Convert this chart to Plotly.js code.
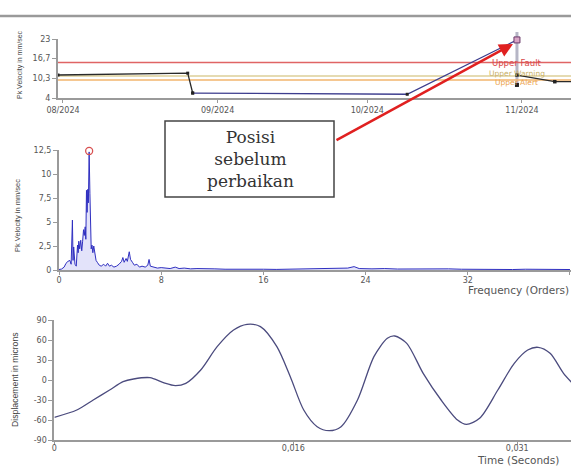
<!DOCTYPE html>
<html>
<head>
<meta charset="utf-8">
<script src="https://cdn.plot.ly/plotly-3.0.1.min.js"></script>
<style>html,body{margin:0;padding:0;background:#fff;}#chart{width:571px;height:471px;}</style>
</head>
<body>
<div id="chart"></div>
<script>
// ---------- DATA ----------
// Trend (top panel)
const trendDatesA = ['2024-07-31', '2024-08-26', '2024-08-27'];
const trendValsA  = [11.4, 12.0, 5.6];
const trendDatesB = ['2024-08-27', '2024-10-09', '2024-10-31'];
const trendValsB  = [5.6, 5.2, 22.7];
const trendDatesC = ['2024-10-31', '2024-11-07 14:00', '2024-11-11'];
const trendValsC  = [11.4, 9.25, 9.25];
const extraDates  = ['2024-10-31'];
const extraVals   = [8.2];
const selectedDate = ['2024-10-31'];
const selectedVal  = [22.7];
const thresholdNames  = ['Upper Fault', 'Upper Warning', 'Upper Alert'];
const thresholdValues = [15.4, 11.1, 9.8];
const trendTickDates  = ['2024-08-01', '2024-09-01', '2024-10-01', '2024-11-01'];
const trendTickLabels = ['08/2024', '09/2024', '10/2024', '11/2024'];
const trendYTicks     = [4, 10.3, 16.7, 23];
const trendYLabels    = ['4', '10,3', '16,7', '23'];

// Spectrum (middle panel)
const specOrders = [0, 0.2, 0.4, 0.55, 0.7, 0.85, 0.95, 1.0, 1.05, 1.1, 1.15, 1.25, 1.35, 1.45, 1.5, 1.55, 1.62, 1.7, 1.78, 1.85,
  1.92, 1.98, 2.05, 2.1, 2.15, 2.2, 2.25, 2.3, 2.36, 2.42, 2.48, 2.52, 2.58, 2.65, 2.72, 2.8, 2.9, 3.0, 3.15, 3.3,
  3.5, 3.65, 3.8, 3.95, 4.1, 4.3, 4.5, 4.7, 4.9, 5.0, 5.1, 5.25, 5.35, 5.5, 5.6, 5.75, 5.9, 6.1, 6.3, 6.5,
  6.75, 6.95, 7.05, 7.15, 7.4, 7.7, 8.0, 8.3, 8.7, 9.1, 9.4, 9.8, 10.3, 10.8, 11.5, 12.2, 13, 14, 15, 16,
  17, 18, 19, 20, 21, 22, 22.6, 23.1, 23.5, 24.5, 25.5, 26.5, 27.5, 28.5, 29.5, 30.5, 31.5, 32.5, 33.5, 34.5,
  35.5, 36.5, 37.5, 38.5, 39.5, 40];
const specVals = [0.05, 0.1, 0.3, 0.7, 0.9, 1.0, 0.6, 3.4, 5.2, 1.0, 2.4, 0.6, 0.4, 2.6, 1.8, 3.0, 2.2, 3.1, 2.0, 3.0,
  4.2, 3.6, 4.5, 3.2, 8.3, 6.0, 8.4, 7.0, 12.3, 8.0, 5.0, 2.2, 2.6, 1.8, 2.5, 1.6, 1.0, 0.8, 0.5, 0.4,
  0.6, 0.4, 0.7, 0.4, 0.5, 0.3, 0.4, 0.6, 0.9, 1.3, 0.8, 1.2, 0.9, 1.9, 1.1, 0.8, 0.5, 0.6, 0.3, 0.4,
  0.3, 0.5, 1.1, 0.4, 0.3, 0.2, 0.25, 0.2, 0.15, 0.3, 0.15, 0.2, 0.12, 0.15, 0.1, 0.12, 0.08, 0.1, 0.07, 0.08,
  0.06, 0.08, 0.06, 0.1, 0.12, 0.15, 0.2, 0.35, 0.15, 0.12, 0.15, 0.1, 0.12, 0.15, 0.1, 0.12, 0.08, 0.06, 0.05, 0.06,
  0.05, 0.08, 0.05, 0.06, 0.05, 0.05];
const peakOrder = [2.36];
const peakVal   = [12.4];
const specXTicks  = [0, 8, 16, 24, 32, 40];
const specXLabels = ['0', '8', '16', '24', '32', '40'];
const specYTicks  = [0, 2.5, 5, 7.5, 10, 12.5];
const specYLabels = ['0', '2,5', '5', '7,5', '10', '12,5'];

// Waveform (bottom panel)
const waveTime = [0, 0.0015, 0.0026, 0.0037, 0.0046, 0.0053, 0.0064, 0.0073, 0.0081, 0.0088, 0.0098, 0.0109, 0.0120,
  0.0129, 0.0138, 0.0149, 0.0158, 0.0167, 0.0176, 0.0184, 0.0192, 0.0203, 0.0214, 0.0223, 0.0228, 0.0236, 0.0247,
  0.0259, 0.0270, 0.0276, 0.0285, 0.0297, 0.0308, 0.0317, 0.0324, 0.0332, 0.0341, 0.0347];
const waveDisp = [-56, -45, -30, -15, -2.5, 1.5, 3.5, -4, -8.5, -5, 15, 50, 75,
  83.5, 80, 50, 5, -45, -70, -76, -70, -30, 35, 62.5, 66, 55, 10,
  -30, -60, -66.5, -57, -15, 25, 45, 49, 40, 10, -5];
const waveXTicks  = [0, 0.016, 0.031];
const waveXLabels = ['0', '0,016', '0,031'];
const waveYTicks  = [-90, -60, -30, 0, 30, 60, 90];
const waveYLabels = ['-90', '-60', '-30', '0', '30', '60', '90'];

// ---------- STYLE ----------
const W = 571, H = 471;
const px = x => x / W;
const py = y => 1 - y / H;
const thrLineColors = ['#e06464', '#dccf98', '#f2b46c'];
const thrTextColors = ['#d84848', '#c9b068', '#eca24a'];
const thrTextSize   = [8.5, 7.5, 7.5];
const thrTextShift  = [0, 2.5, -2.5];

const axisStyle = {
  showline: true, linecolor: '#9a9a9a', linewidth: 2, ticks: 'outside', ticklen: 4,
  tickcolor: '#9a9a9a', tickwidth: 1, showgrid: false, zeroline: false, fixedrange: true,
  tickfont: {family: 'DejaVu Sans', size: 8, color: '#555'}
};

const traces = [];
const trendRange = ['2024-07-31', '2024-11-10 20:00'];
thresholdNames.forEach((n, i) => {
  traces.push({x: trendRange, y: [thresholdValues[i], thresholdValues[i]], mode: 'lines',
    line: {color: thrLineColors[i], width: 1.5}, xaxis: 'x', yaxis: 'y', hoverinfo: 'skip'});
});
traces.push({x: trendDatesA, y: trendValsA, mode: 'lines+markers', line: {color: '#2a2a2a', width: 1.3},
  marker: {color: '#222', size: 3, symbol: 'square'}, xaxis: 'x', yaxis: 'y', cliponaxis: false});
traces.push({x: trendDatesB, y: trendValsB, mode: 'lines+markers', line: {color: '#3d3d8e', width: 1.3},
  marker: {color: '#222', size: 3, symbol: 'square'}, xaxis: 'x', yaxis: 'y', cliponaxis: false});
traces.push({x: trendDatesC, y: trendValsC, mode: 'lines+markers', line: {color: '#2a2a2a', width: 1.3},
  marker: {color: '#222', size: 3.5, symbol: 'square'}, xaxis: 'x', yaxis: 'y', cliponaxis: false});
traces.push({x: extraDates, y: extraVals, mode: 'markers', marker: {color: '#222', size: 4, symbol: 'square'},
  xaxis: 'x', yaxis: 'y', cliponaxis: false});
traces.push({x: selectedDate, y: selectedVal, mode: 'markers',
  marker: {color: '#d9a6c6', size: 6, symbol: 'square', line: {color: '#6a3a6a', width: 1}},
  xaxis: 'x', yaxis: 'y', cliponaxis: false});

traces.push({x: specOrders, y: specVals, mode: 'lines', line: {color: '#2f2fc0', width: 1},
  fill: 'tozeroy', fillcolor: 'rgba(70,70,220,0.15)', xaxis: 'x2', yaxis: 'y2'});
traces.push({x: peakOrder, y: peakVal, mode: 'markers',
  marker: {symbol: 'circle-open', size: 7, color: '#d85050', line: {width: 1.3, color: '#d85050'}},
  xaxis: 'x2', yaxis: 'y2', cliponaxis: false});

traces.push({x: waveTime, y: waveDisp, mode: 'lines', line: {color: '#4b4b7e', width: 1.3, shape: 'spline', smoothing: 0.8},
  xaxis: 'x3', yaxis: 'y3'});

const annotations = [];
thresholdNames.forEach((n, i) => {
  annotations.push({xref: 'x', yref: 'y', x: selectedDate[0], y: thresholdValues[i], text: n, showarrow: false,
    xanchor: 'center', yanchor: 'middle', yshift: thrTextShift[i],
    font: {family: 'DejaVu Sans', size: thrTextSize[i], color: thrTextColors[i]}});
});
// axis titles
const mid = {xanchor: 'center', yanchor: 'middle', showarrow: false, xref: 'paper', yref: 'paper'};
annotations.push(Object.assign({}, mid, {x: px(20), y: py(65), text: 'Pk Velocity in mm/sec', textangle: -90,
  font: {family: 'Liberation Sans', size: 7, color: '#444'}}));
annotations.push(Object.assign({}, mid, {x: px(17), y: py(216), text: 'Pk Velocity in mm/sec', textangle: -90,
  font: {family: 'Liberation Sans', size: 7.5, color: '#444'}}));
annotations.push(Object.assign({}, mid, {x: px(15), y: py(380), text: 'Displacement in microns', textangle: -90,
  font: {family: 'Liberation Sans', size: 8.7, color: '#444'}}));
annotations.push(Object.assign({}, mid, {x: px(571), y: py(290), text: 'Frequency (Orders)', xanchor: 'right',
  font: {family: 'DejaVu Sans', size: 10.5, color: '#555'}}));
annotations.push(Object.assign({}, mid, {x: px(561), y: py(460), text: 'Time (Seconds)', xanchor: 'right',
  font: {family: 'DejaVu Sans', size: 10.5, color: '#555'}}));
// red arrow
annotations.push({xref: 'paper', yref: 'paper', x: px(513), y: py(44), text: '', showarrow: true,
  ax: -178, ay: 97, arrowcolor: '#e02020', arrowwidth: 2.5, arrowhead: 2, arrowsize: 1.1, standoff: 0});
// callout text
annotations.push(Object.assign({}, mid, {x: px(250), y: py(159), text: 'Posisi<br>sebelum<br>perbaikan',
  align: 'center', font: {family: 'DejaVu Serif', size: 17, color: '#333'}}));

const shapes = [
  {type: 'line', xref: 'paper', yref: 'paper', x0: 0, x1: 1, y0: py(16), y1: py(16), line: {color: '#9a9a9a', width: 2.5}},
  {type: 'line', xref: 'x', yref: 'paper', x0: selectedDate[0], x1: selectedDate[0], y0: py(86), y1: py(32),
    line: {color: '#b6b6c6', width: 3}, layer: 'below'},
  {type: 'rect', xref: 'paper', yref: 'paper', x0: px(165), x1: px(334), y0: py(197), y1: py(121),
    line: {color: '#444', width: 1.5}, fillcolor: '#ffffff', layer: 'above'}
];

const layout = {
  width: W, height: H, margin: {l: 0, r: 0, t: 0, b: 0},
  paper_bgcolor: '#fff', plot_bgcolor: '#fff', showlegend: false,
  font: {family: 'DejaVu Sans', size: 8, color: '#555'},
  xaxis: Object.assign({}, axisStyle, {domain: [px(58), 1], anchor: 'y', type: 'date', range: trendRange,
    tickvals: trendTickDates, ticktext: trendTickLabels, ticklen: 3}),
  yaxis: Object.assign({}, axisStyle, {domain: [py(98), py(39)], anchor: 'x', range: [4, 23],
    tickvals: trendYTicks, ticktext: trendYLabels}),
  xaxis2: Object.assign({}, axisStyle, {domain: [px(59), 1], anchor: 'y2', range: [0, 40.08],
    tickvals: specXTicks, ticktext: specXLabels, ticklen: 3, ticklabelstandoff: -2}),
  yaxis2: Object.assign({}, axisStyle, {domain: [py(270), py(150)], anchor: 'x2', range: [0, 12.5],
    tickvals: specYTicks, ticktext: specYLabels}),
  xaxis3: Object.assign({}, axisStyle, {domain: [px(54.4), 1], anchor: 'y3', range: [0, 0.0346],
    tickvals: waveXTicks, ticktext: waveXLabels, ticklen: 3, ticklabelstandoff: -4}),
  yaxis3: Object.assign({}, axisStyle, {domain: [py(440), py(320)], anchor: 'x3', range: [-90, 90],
    tickvals: waveYTicks, ticktext: waveYLabels}),
  annotations: annotations,
  shapes: shapes
};

Plotly.newPlot('chart', traces, layout, {staticPlot: true, displayModeBar: false});
</script>
</body>
</html>
